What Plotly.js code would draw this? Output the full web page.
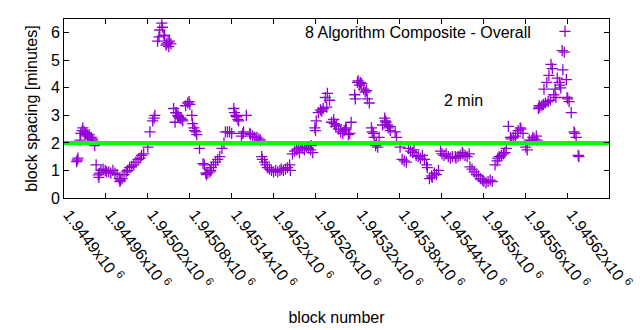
<!DOCTYPE html>
<html>
<head>
<meta charset="utf-8">
<script src="https://cdn.plot.ly/plotly-3.0.1.min.js"></script>
<style>html,body{margin:0;padding:0;background:#fff;}#chart{width:640px;height:330px;}</style>
</head>
<body>
<div id="chart"></div>
<script>
const blockNumbers = [
1944918,1944919,1944920,1944923,1944924,1944926,1944927,1944929,1944930,1944931,1944933,1944934,1944936,1944937,1944939,1944940,1944941,1944944,
1944946,1944949,1944950,1944951,1944953,1944956,1944959,1944961,1944964,1944967,1944970,1944973,1944976,1944979,1944980,1944981,1944983,1944986,1944989,1944991,1944994,1944997,1945000,1945003,1945006,1945009,1945011,1945014,
1945020,1945023,1945027,1945029,1945030,
1945034,1945036,1945037,1945040,1945041,1945043,1945044,1945046,1945047,1945049,1945050,1945051,1945053,
1945057,1945059,1945060,1945061,1945063,1945064,1945066,1945067,1945069,1945070,1945074,1945077,1945079,1945080,1945083,1945084,1945086,1945087,1945089,1945090,1945094,
1945099,1945101,1945103,1945104,1945106,1945109,1945110,1945111,1945114,1945117,1945120,1945123,1945126,1945129,
1945131,1945134,1945137,1945140,1945143,1945144,1945146,1945147,1945149,1945150,1945154,1945156,1945157,1945161,1945166,1945167,1945170,1945173,1945176,1945179,1945181,
1945183,1945184,1945187,1945189,1945191,1945194,1945197,1945200,1945203,1945206,1945209,1945211,1945214,1945217,1945220,1945223,1945224,1945227,1945230,1945233,1945236,
1945237,1945239,1945241,1945244,1945247,1945250,1945253,1945254,1945256,
1945259,1945260,1945261,1945264,1945267,1945269,1945271,1945274,1945276,1945277,1945280,
1945283,1945286,1945287,1945289,1945290,1945293,1945296,1945299,1945301,1945303,1945304,1945307,1945309,1945311,
1945316,1945317,1945320,1945321,1945323,1945324,1945326,1945329,1945331,1945333,1945334,1945337,
1945340,1945341,1945343,1945344,1945346,1945347,1945349,1945351,1945356,1945359,1945360,1945361,1945363,1945364,1945366,1945367,1945374,1945376,1945381,
1945384,1945387,1945390,1945393,1945396,1945399,1945401,1945404,1945407,1945410,1945413,1945416,1945419,1945420,1945423,1945426,1945427,1945430,1945433,1945436,
1945439,1945441,1945444,1945447,1945450,1945453,1945456,
1945460,1945461,1945464,1945467,1945470,1945471,1945474,1945477,1945480,
1945481,1945484,1945487,1945490,1945493,1945496,1945499,1945501,1945504,1945507,1945510,1945513,
1945517,1945520,1945521,1945523,1945526,1945529,1945531,1945533,
1945536,1945539,1945540,1945543,1945546,1945549,1945550,1945553,1945554,1945557,1945561,1945563,1945566,1945570,1945571,1945573,1945576,1945577,
1945579,1945580,1945581,1945584,1945586,1945587,1945589,1945591,1945593,1945594,1945596,1945597,1945599,1945601,1945603,1945604,1945606,1945609,1945610,1945611,1945613,1945614,1945616,1945617,1945619,1945620,1945621,1945623,1945626,1945630,1945631,1945633,1945636,1945637
];
const spacingMinutes = [
1.32,1.38,1.45,2.1,2.35,2.45,2.55,2.4,2.3,2.35,2.3,2.25,2.3,2.2,2.2,2.15,2.1,1.9,
1.2,0.84,0.75,0.9,1.0,1.05,1.0,0.95,0.95,0.9,1.0,0.9,0.85,0.7,0.6,0.65,0.7,0.85,0.95,1.0,1.1,1.15,1.2,1.3,1.4,1.45,1.55,1.6,
1.85,2.4,2.8,2.9,3.0,
5.7,5.85,6.1,6.35,6.2,5.9,5.9,5.55,5.6,5.65,5.5,5.7,5.6,
3.25,2.75,3.1,3.1,3.0,2.95,2.9,2.9,2.85,2.8,3.35,3.45,3.5,3.4,3.0,2.7,2.55,2.45,2.4,2.3,1.8,
1.25,1.2,0.9,0.85,0.9,0.95,1.0,1.1,1.2,1.3,1.4,1.5,1.8,2.0,
2.4,2.4,2.4,2.35,3.25,3.1,3.0,2.95,2.85,2.8,2.25,2.35,2.4,3.0,2.35,2.3,2.25,2.2,2.2,2.15,2.1,
1.5,1.4,1.3,1.2,1.1,1.05,1.0,0.95,1.0,0.95,1.0,1.05,1.0,1.05,1.1,1.2,1.0,1.6,1.7,1.75,1.8,
1.65,1.85,1.8,1.75,1.85,1.8,1.75,1.9,1.65,
2.55,2.45,2.8,3.1,3.2,3.15,3.25,3.65,3.3,3.8,3.55,
2.75,2.85,2.7,2.6,2.65,2.5,2.4,2.35,2.45,2.55,2.5,2.3,2.35,2.75,
3.75,3.6,4.2,4.25,4.1,4.2,4.15,3.95,3.85,3.9,3.6,3.45,
2.55,2.4,2.35,2.2,1.9,2.0,1.85,2.2,2.65,2.9,2.8,2.75,2.65,2.55,2.6,2.45,2.4,2.2,1.85,
1.4,1.35,1.3,1.8,1.7,1.65,1.75,1.55,1.5,1.45,1.55,1.4,1.2,1.1,0.7,0.8,0.75,0.9,0.85,1.0,
1.7,1.6,1.55,1.6,1.5,1.45,1.5,
1.5,1.45,1.5,1.55,1.65,1.6,1.55,1.5,1.6,
1.13,1.05,0.95,0.85,0.8,0.7,0.65,0.6,0.55,0.6,0.65,0.6,
1.2,1.35,1.45,1.5,1.55,1.6,1.65,1.8,
2.6,2.2,2.15,2.2,2.25,2.35,2.45,2.55,2.5,2.35,1.85,1.75,2.1,2.1,2.2,2.15,2.25,2.1,
3.25,3.35,3.3,3.35,3.4,3.95,3.45,4.2,3.5,4.45,3.55,4.85,4.7,3.75,3.95,3.65,4.35,4.2,4.1,4.0,5.35,4.65,5.3,6.05,4.3,3.65,3.6,3.5,3.1,2.4,2.35,2.2,1.55,1.5
];
const xTickValues = [1944900,1944960,1945020,1945080,1945140,1945200,1945260,1945320,1945380,1945440,1945500,1945560,1945620,1945680];
const xTickLabels = ["1.9449","1.94496","1.94502","1.94508","1.94514","1.9452","1.94526","1.94532","1.94538","1.94544","1.9455","1.94556","1.94562","1.94568"];
const xRange = [1944900, 1945680.05];
const lineRange = [1944900, 1945680];
const targetSpacing = 2;
const seriesTitle = "8 Algorithm Composite - Overall";
const lineTitle = "2 min";

const FONT = "Liberation Sans, Arial, sans-serif";
const traces = [
  {
    x: blockNumbers, y: spacingMinutes, type: "scatter", mode: "markers",
    marker: {symbol: "cross-thin-open", size: 8, color: "#9400d3", line: {color: "#9400d3", width: 1.3}},
    hoverinfo: "x+y", showlegend: false, cliponaxis: true
  },
  {
    x: lineRange, y: [targetSpacing, targetSpacing], type: "scatter", mode: "lines",
    line: {color: "#00ff00", width: 4}, showlegend: false
  }
];
const layout = {
  width: 640, height: 330,
  margin: {l: 64, r: 31, t: 19, b: 132},
  paper_bgcolor: "#ffffff", plot_bgcolor: "#ffffff",
  font: {family: FONT, size: 15, color: "#000"},
  showlegend: false,
  xaxis: {
    range: xRange, tickvals: xTickValues,
    ticktext: xTickLabels.map(t => t + "x10 <sup>6</sup>"),
    tickangle: 53, ticks: "inside", ticklen: 5, tickcolor: "#000",
    ticklabelshift: 5,
    showline: true, linecolor: "#000", linewidth: 1, mirror: "allticks",
    showgrid: false, zeroline: false,
    tickfont: {family: FONT, size: 16},
    title: {text: "block number", font: {family: FONT, size: 16}, standoff: 20},
    automargin: false
  },
  yaxis: {
    range: [0, 6.5], dtick: 1, tick0: 0,
    ticks: "inside", ticklen: 5, tickcolor: "#000",
    showline: true, linecolor: "#000", linewidth: 1, mirror: "allticks",
    showgrid: false, zeroline: false,
    tickfont: {family: FONT, size: 16},
    title: {text: "block spacing [minutes]", font: {family: FONT, size: 16}, standoff: 9},
    automargin: false
  },
  annotations: [
    {text: seriesTitle, xref: "paper", yref: "paper", x: 0.8606, y: 0.927, xanchor: "right", yanchor: "middle", showarrow: false, font: {family: FONT, size: 16, color: "#000"}},
    {text: lineTitle, xref: "paper", yref: "paper", x: 0.7725, y: 0.542, xanchor: "right", yanchor: "middle", showarrow: false, font: {family: FONT, size: 16, color: "#000"}}
  ]
};
Plotly.newPlot("chart", traces, layout, {displayModeBar: false, staticPlot: true});
</script>
</body>
</html>
